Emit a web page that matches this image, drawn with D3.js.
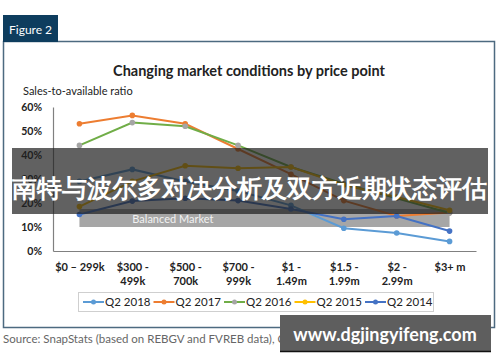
<!DOCTYPE html>
<html>
<head>
<meta charset="utf-8">
<script src="https://cdn.jsdelivr.net/npm/d3@7"></script>
<style>
  body { margin: 0; background: #fff; }
  text { font-family: "Lato", "Open Sans", sans-serif; }
</style>
</head>
<body>
<div id="chart"></div>
<script>
var categories = ["$0 – 299k", "$300 - 499k", "$500 - 700k", "$700 - 999k", "$1 - 1.49m", "$1.5 - 1.99m", "$2 - 2.99m", "$3+ m"];
var tickLines = [["$0 – 299k"], ["$300 -", "499k"], ["$500 -", "700k"], ["$700 -", "999k"], ["$1 -", "1.49m"], ["$1.5 -", "1.99m"], ["$2 -", "2.99m"], ["$3+ m"]];
var seriesNames = ["Q2 2018", "Q2 2017", "Q2 2016", "Q2 2015", "Q2 2014"];
var q2018 = [29, 34, 29, 25, 19, 9.5, 7.5, 4];
var q2017 = [53, 56.5, 53, 42.5, 32, 21, 14.6, 16];
var q2016 = [44, 53.5, 52, 44, 35, 28, 22, 15.8];
var q2015 = [18.5, 29, 35.5, 34.5, 35, 27.5, 22.5, 17];
var q2014 = [15.2, 20.8, 22, 21, 17.5, 13.2, 14.6, 8.3];
var yTicks = [0, 10, 20, 30, 40, 50, 60];
var balanced = [10, 17.5];

(function() {
  var width = 500, height = 362;

  var svg = d3.select("#chart")
    .append("svg")
    .attr("width", width)
    .attr("height", height);

  var series = [
    { name: seriesNames[0], values: q2018, line: "#5b9bd5", dot: "#5b9bd5" },
    { name: seriesNames[1], values: q2017, line: "#ed7d31", dot: "#ed7d31" },
    { name: seriesNames[2], values: q2016, line: "#70ad47", dot: "#a5a5a5" },
    { name: seriesNames[3], values: q2015, line: "#ffc000", dot: "#ffc000" },
    { name: seriesNames[4], values: q2014, line: "#4472c4", dot: "#4472c4" }
  ];

  // frame + tab
  svg.append("rect")
    .attr("x", 3.5).attr("y", 41.5)
    .attr("width", 491).attr("height", 286)
    .attr("fill", "none")
    .attr("stroke", "#4d6a80")
    .attr("stroke-width", 1.5);

  svg.append("rect")
    .attr("x", 3).attr("y", 15)
    .attr("width", 55).attr("height", 27)
    .attr("fill", "#0e3d5e");

  svg.append("text")
    .attr("x", 9).attr("y", 34)
    .attr("fill", "#fff")
    .attr("font-size", "12px")
    .text("Figure 2");

  svg.append("text")
    .attr("x", 249).attr("y", 76)
    .attr("text-anchor", "middle")
    .attr("font-size", "14.5px")
    .attr("font-weight", "bold")
    .attr("fill", "#222")
    .text("Changing market conditions by price point");

  svg.append("text")
    .attr("x", 23).attr("y", 95)
    .attr("font-size", "11px")
    .attr("fill", "#222")
    .text("Sales-to-available ratio");

  var xPositionScale = d3.scalePoint().domain(categories).range([53, 476]).padding(0.5);
  var yPositionScale = d3.scaleLinear().domain([0, 60]).range([251, 107]);

  // balanced market band
  svg.append("rect")
    .attr("x", xPositionScale(categories[0]))
    .attr("y", yPositionScale(balanced[1]))
    .attr("width", xPositionScale(categories[7]) - xPositionScale(categories[0]))
    .attr("height", yPositionScale(balanced[0]) - yPositionScale(balanced[1]))
    .attr("fill", "#a6a6a6");

  svg.append("text")
    .attr("x", xPositionScale(categories[1]))
    .attr("y", yPositionScale(balanced[0]) - 4)
    .attr("font-size", "11px")
    .attr("fill", "#f2f2f2")
    .text("Balanced Market");

  // axes
  var yAxis = d3.axisLeft(yPositionScale)
    .tickValues(yTicks)
    .tickSize(0)
    .tickPadding(11)
    .tickFormat(function(d) { return d + "%"; });

  var yg = svg.append("g")
    .attr("class", "axis y-axis")
    .attr("transform", "translate(53,0)")
    .call(yAxis);
  yg.select(".domain").attr("stroke", "#808080").attr("stroke-width", 1.2);
  yg.selectAll("text")
    .attr("font-family", "Lato, sans-serif")
    .attr("font-size", "10.5px")
    .attr("font-weight", "bold")
    .attr("fill", "#222");

  var xAxis = d3.axisBottom(xPositionScale).tickSize(0).tickFormat("");
  var xg = svg.append("g")
    .attr("class", "axis x-axis")
    .attr("transform", "translate(0,251)")
    .call(xAxis);
  xg.select(".domain").attr("stroke", "#808080").attr("stroke-width", 1.2);

  xg.selectAll(".tick")
    .data(tickLines)
    .append("text")
    .attr("font-family", "Lato, sans-serif")
    .attr("font-size", "11px")
    .attr("font-weight", "bold")
    .attr("fill", "#222")
    .attr("text-anchor", "middle")
    .selectAll("tspan")
    .data(function(d) { return d; })
    .enter().append("tspan")
    .attr("x", 0)
    .attr("y", function(d, i) { return 20 + i * 14; })
    .text(function(d) { return d; });

  // lines
  var line = d3.line()
    .x(function(d, i) { return xPositionScale(categories[i]); })
    .y(function(d) { return yPositionScale(d); });

  series.forEach(function(s) {
    svg.append("path")
      .datum(s.values)
      .attr("d", line)
      .attr("fill", "none")
      .attr("stroke", s.line)
      .attr("stroke-width", 2);

    svg.selectAll(null)
      .data(s.values)
      .enter().append("circle")
      .attr("cx", function(d, i) { return xPositionScale(categories[i]); })
      .attr("cy", function(d) { return yPositionScale(d); })
      .attr("r", 2.8)
      .attr("fill", s.dot);
  });

  // legend
  svg.append("rect")
    .attr("x", 78.5).attr("y", 292.5)
    .attr("width", 355).attr("height", 19)
    .attr("fill", "#fff")
    .attr("stroke", "#cfcfcf");

  var legend = svg.selectAll(".legend")
    .data(series)
    .enter().append("g")
    .attr("class", "legend")
    .attr("transform", function(d, i) { return "translate(" + (83 + i * 70.5) + ",302)"; });

  legend.append("line")
    .attr("x1", 0).attr("x2", 21)
    .attr("stroke", function(d) { return d.line; })
    .attr("stroke-width", 2);
  legend.append("circle")
    .attr("cx", 10.5).attr("r", 2.5)
    .attr("fill", function(d) { return d.dot; });
  legend.append("text")
    .attr("x", 22).attr("y", 4)
    .attr("font-size", "11.5px")
    .attr("fill", "#222")
    .text(function(d) { return d.name; });

  svg.append("text")
    .attr("x", 3).attr("y", 343)
    .attr("font-size", "11.5px")
    .attr("fill", "#666")
    .text("Source: SnapStats (based on REBGV and FVREB data), CMHC");

  // overlay banner
  svg.append("rect")
    .attr("x", 12).attr("y", 148)
    .attr("width", 476).attr("height", 66)
    .attr("fill", "rgba(30,30,30,0.7)");

  svg.append("text")
    .attr("x", 249).attr("y", 197)
    .attr("text-anchor", "middle")
    .attr("font-family", "'Noto Sans CJK SC', sans-serif")
    .attr("font-size", "24.5px")
    .attr("font-weight", "bold")
    .attr("fill", "#fff")
    .text("南特与波尔多对决分析及双方近期状态评估");

  // watermark
  svg.append("rect")
    .attr("x", 280).attr("y", 315)
    .attr("width", 211).attr("height", 37)
    .attr("fill", "#5e5e5e");
  svg.append("line")
    .attr("x1", 280).attr("x2", 491)
    .attr("y1", 351.5).attr("y2", 351.5)
    .attr("stroke", "#111").attr("stroke-width", 1.5);
  svg.append("text")
    .attr("x", 385).attr("y", 341)
    .attr("text-anchor", "middle")
    .attr("font-family", "'Noto Sans', sans-serif")
    .attr("font-size", "18px")
    .attr("font-weight", "bold")
    .attr("fill", "#fff")
    .text("www.dgjingyifeng.com");
})();
</script>
</body>
</html>
